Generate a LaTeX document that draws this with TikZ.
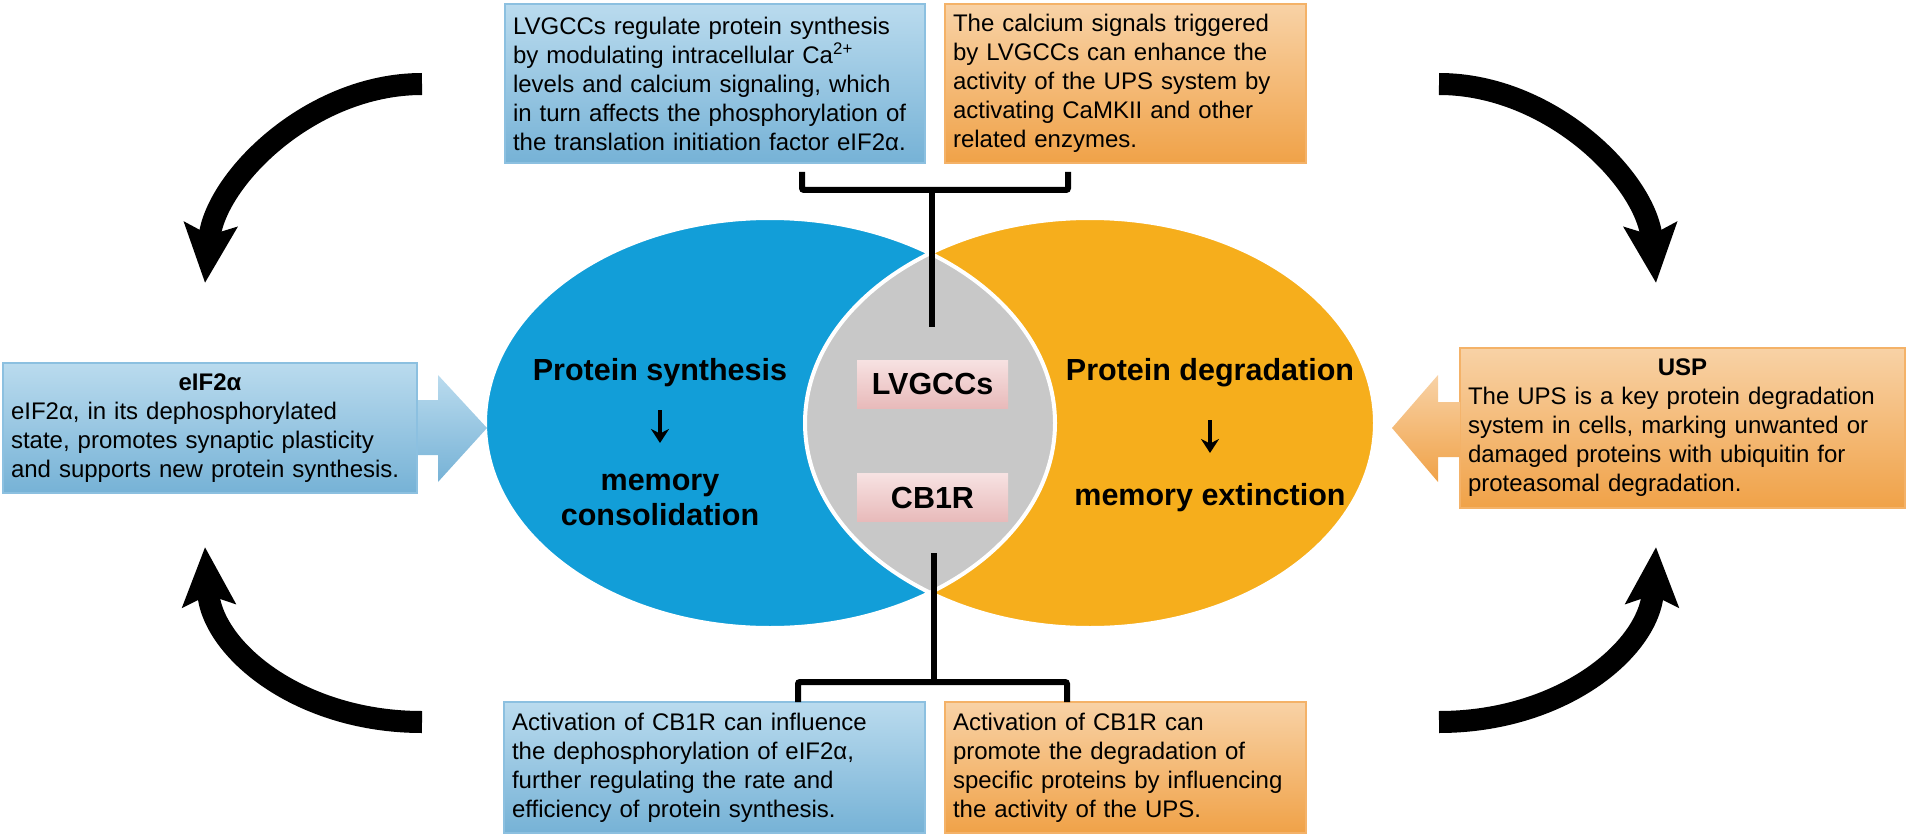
\documentclass[tikz,border=0pt]{standalone}
\usepackage{fontspec}
\setmainfont{Liberation Sans}
\usetikzlibrary{arrows.meta,positioning,calc}
\definecolor{ellblue}{RGB}{18,158,216}
\definecolor{ellorange}{RGB}{246,174,28}
\definecolor{lensgray}{RGB}{200,200,200}
\definecolor{pinktop}{RGB}{247,226,226}
\definecolor{pinkbot}{RGB}{232,186,186}
\definecolor{boxbluetop}{RGB}{186,219,238}
\definecolor{boxbluebot}{RGB}{118,178,214}
\definecolor{boxblueline}{RGB}{140,192,224}
\definecolor{boxorangetop}{RGB}{248,210,166}
\definecolor{boxorangebot}{RGB}{240,162,72}
\definecolor{boxorangeline}{RGB}{244,178,104}

\begin{document}
\begin{tikzpicture}[x=1pt,y=-1pt,
  txtbox/.style={rectangle, line width=1.2pt, inner xsep=8pt, inner ysep=4pt, align=left,
    font=\fontsize{24}{29}\selectfont},
  bluebox/.style={txtbox, top color=boxbluetop, bottom color=boxbluebot, draw=boxblueline},
  orangebox/.style={txtbox, top color=boxorangetop, bottom color=boxorangebot, draw=boxorangeline},
  elltext/.style={inner sep=0pt, align=center, font=\fontsize{30.5}{35}\selectfont\bfseries},
  tag/.style={rectangle, top color=pinktop, bottom color=pinkbot, minimum width=151pt,
    minimum height=48pt, inner sep=0pt, font=\fontsize{30.5}{35}\selectfont\bfseries},
  brk/.style={line width=6pt, rounded corners=2pt},
  bigarr/.style={line width=22pt, -{Stealth[length=58pt,width=52pt,inset=10pt]}},
  flowarr/.style={line width=3.2pt, -{Stealth[length=14pt,width=18pt]}}]
\useasboundingbox (0,0) rectangle (1908,837);

% the two fields and their overlap
\fill[ellblue] (770,423) ellipse (285pt and 205pt);
\fill[ellorange] (1090,423) ellipse (285pt and 205pt);
\begin{scope}
\clip (770,423) ellipse (285pt and 205pt);
\fill[lensgray] (1090,423) ellipse (285pt and 205pt);
\end{scope}
\draw[white, line width=4pt] (770,423) ellipse (285pt and 205pt) (1090,423) ellipse (285pt and 205pt);

\node[elltext] (psyn) at (660,373) {Protein synthesis};
\node[elltext] (mcons) at (660,500) {memory\\consolidation};
\draw[flowarr, shorten <=37pt, shorten >=57pt] (psyn.center) -- (mcons.center);
\node[elltext] (pdeg) at (1210,373) {Protein degradation};
\node[elltext] (mext) at (1210,498) {memory extinction};
\draw[flowarr, shorten <=47pt, shorten >=45pt] (pdeg.center) -- (mext.center);

\node[tag] (lvg) at (932.5,384) {LVGCCs};
\node[tag] (cb1r) at (932.5,497.5) {CB1R};

% side boxes
\node[bluebox, text width=398pt, minimum height=130pt] (eif) at (210,428)
  {\hspace*{\fill}\textbf{eIF2α}\hspace*{\fill}\null\\
   eIF2α, in its dephosphorylated\\
   state, promotes synaptic plasticity\\
   and supports new protein synthesis.};
\shade[top color=boxbluetop, bottom color=boxbluebot]
  (418,400) -- (438,400) -- (438,375) -- (487,428) -- (438,482) -- (438,455) -- (418,455) -- cycle;

\node[orangebox, text width=429pt, minimum height=160pt] (usp) at (1682.5,428)
  {\hspace*{\fill}\textbf{USP}\hspace*{\fill}\null\\
   The UPS is a key protein degradation\\
   system in cells, marking unwanted or\\
   damaged proteins with ubiquitin for\\
   proteasomal degradation.};
\shade[top color=boxorangetop, bottom color=boxorangebot]
  (1460,402) -- (1438,402) -- (1438,375) -- (1392,428) -- (1438,482) -- (1438,457) -- (1460,457) -- cycle;

% top and bottom boxes
\node[bluebox, text width=404pt, minimum height=159pt] (lvgsyn) at (715,83.5)
  {LVGCCs regulate protein synthesis\\
   by modulating intracellular Ca\textsuperscript{2+}\\
   levels and calcium signaling, which\\
   in turn affects the phosphorylation of\\
   the translation initiation factor eIF2α.};
\node[orangebox, text width=345pt, minimum height=159pt] (lvgdeg) at (1125.5,83.5)
  {The calcium signals triggered\\
   by LVGCCs can enhance the\\
   activity of the UPS system by\\
   activating CaMKII and other\\
   related enzymes.};
\node[bluebox, text width=405pt, minimum height=131pt] (cbsyn) at (714.5,767.5)
  {Activation of CB1R can influence\\
   the dephosphorylation of eIF2α,\\
   further regulating the rate and\\
   efficiency of protein synthesis.};
\node[orangebox, text width=345pt, minimum height=131pt] (cbdeg) at (1125.5,767.5)
  {Activation of CB1R can\\
   promote the degradation of\\
   specific proteins by influencing\\
   the activity of the UPS.};

% brackets
\coordinate (topjoin) at (932,190);
\coordinate (lvgstem) at (932,327);
\coordinate (botjoin) at (934,682);
\coordinate (cbstem) at (934,553);
\draw[brk] (802,172) |- (1068,190) -- (1068,172);
\draw[brk] (topjoin) -- (lvgstem);
\draw[brk] (798,702) |- (1067,682) -- (1067,702);
\draw[brk] (botjoin) -- (cbstem);

% cycle arrows
\coordinate (tlstart) at (422,84);
\coordinate (tlend) at (205,283);
\coordinate (trstart) at (1439,84);
\coordinate (trend) at (1656,283);
\coordinate (blstart) at (422,722);
\coordinate (blend) at (205,547);
\coordinate (brstart) at (1439,722);
\coordinate (brend) at (1656,547);
\draw[bigarr] (tlstart) .. controls (310,84) and (215,180) .. (tlend);
\draw[bigarr] (trstart) .. controls (1551,84) and (1646,180) .. (trend);
\draw[bigarr] (blstart) .. controls (300,722) and (212,650) .. (blend);
\draw[bigarr] (brstart) .. controls (1561,722) and (1649,650) .. (brend);
\end{tikzpicture}
\end{document}
